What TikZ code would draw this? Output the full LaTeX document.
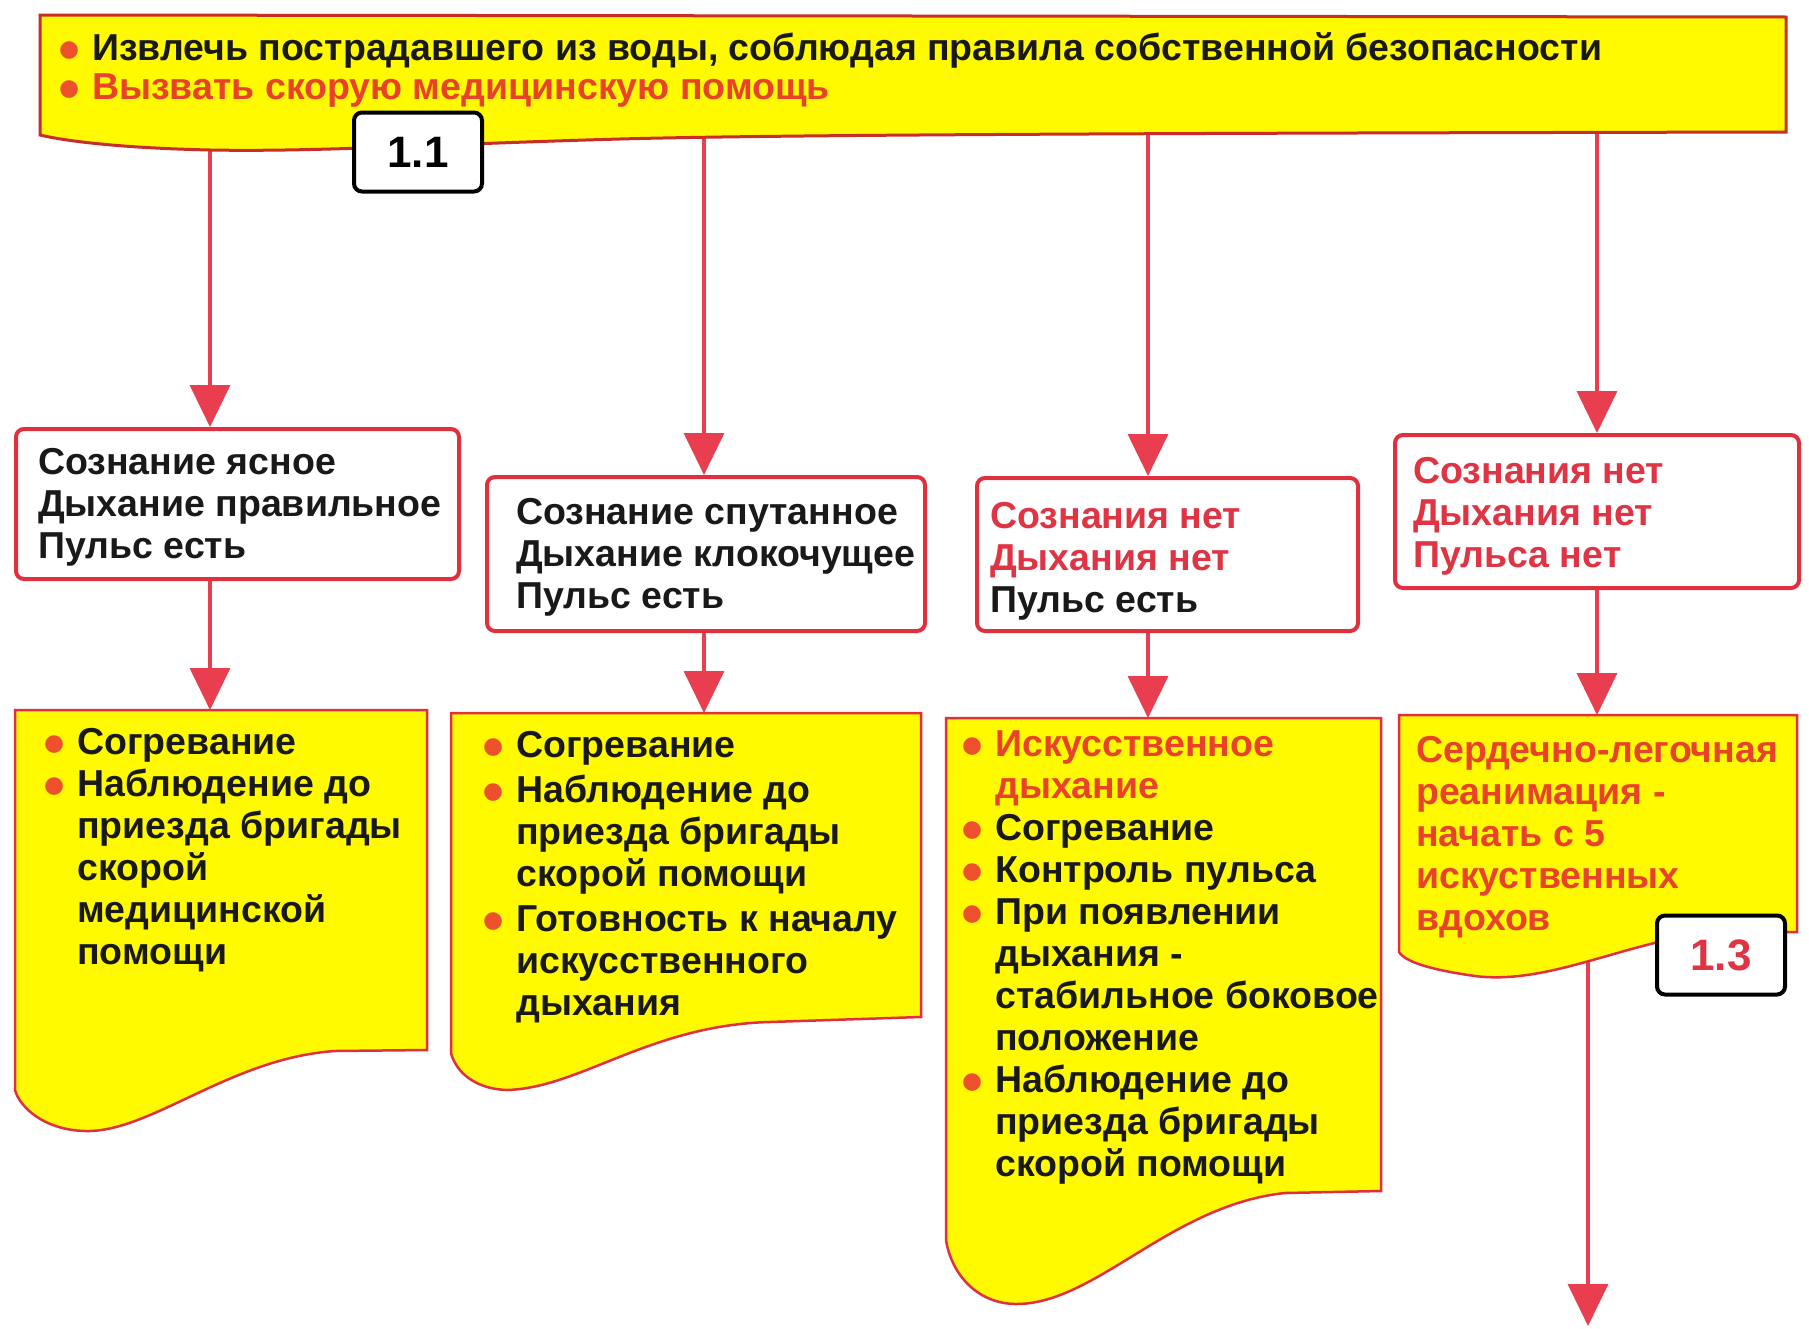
\documentclass[tikz,border=0pt]{standalone}
\usepackage{fontspec}
\setmainfont{Liberation Sans}
\newfontfamily\symfont{DejaVu Sans}
\usetikzlibrary{arrows.meta,positioning}

\definecolor{banyellow}{RGB}{255,250,0}
\definecolor{bandred}{RGB}{200,45,40}
\definecolor{linkred}{RGB}{232,62,80}
\definecolor{framered}{RGB}{224,48,62}
\definecolor{textred}{RGB}{232,66,42}
\definecolor{condred}{RGB}{222,52,68}
\definecolor{dotred}{RGB}{236,80,44}
\definecolor{inkblack}{RGB}{25,25,25}

\newcommand{\bul}{\makebox[33pt][l]{\raisebox{4pt}{\textcolor{dotred}{\symfont\fontsize{23}{23}\selectfont ●}}}}
\newcommand{\ind}{\hspace*{33pt}}

\begin{document}
\begin{tikzpicture}[x=1pt,y=-1pt,
  link/.style={draw=linkred,line width=3.5pt,-{Triangle[width=40pt,length=42pt]}},
  banner/.style={draw=bandred,line width=3pt,fill=banyellow},
  condbox/.style={draw=framered,line width=4pt,fill=white,rounded corners=8pt,anchor=north west,inner sep=0pt},
  condtext/.style={anchor=west,align=left,inner sep=0pt,text=inkblack,font=\bfseries\fontsize{37.5}{42}\selectfont},
  actframe/.style={draw=framered,line width=2.5pt,fill=banyellow},
  acttext/.style={anchor=north west,align=left,inner sep=0pt,text=inkblack,font=\bfseries\fontsize{37.5}{42}\selectfont},
  tagbox/.style={draw=black,line width=4pt,fill=white,rounded corners=8pt,minimum width=128pt,minimum height=79pt,inner sep=0pt,font=\bfseries\fontsize{44}{44}\selectfont}]
\useasboundingbox (0,0) rectangle (1809,1328);
\fill[white] (0,0) rectangle (1809,1328);

% condition boxes
\node[condbox,minimum width=443,minimum height=150] (c1) at (14,427) {};
\node[condbox,minimum width=438,minimum height=154] (c2) at (485,475) {};
\node[condbox,minimum width=381,minimum height=153] (c3) at (975,476) {};
\node[condbox,minimum width=404,minimum height=153] (c4) at (1393,433) {};
\node[condtext,right=24pt of c1.west,yshift=-3pt] (c1t) {Сознание ясное\\Дыхание правильное\\Пульс есть};
\node[condtext,right=31pt of c2.west,yshift=-3pt] (c2t) {Сознание спутанное\\Дыхание клокочущее\\Пульс есть};
\node[condtext,right=15pt of c3.west,yshift=-7pt] (c3t) {\textcolor{condred}{Сознания нет}\\\textcolor{condred}{Дыхания нет}\\Пульс есть};
\node[condtext,right=20pt of c4.west,yshift=-5pt,text=condred] (c4t) {Сознания нет\\Дыхания нет\\Пульса нет};

% arrows from the top banner
\coordinate (b1) at (210,140);
\coordinate (b2) at (704,132);
\coordinate (b3) at (1148,128);
\coordinate (b4) at (1597,125);
\draw[link] (b1) -- (b1 |- c1.north);
\draw[link] (b2) -- (b2 |- c2.north);
\draw[link] (b3) -- (b3 |- c3.north);
\draw[link] (b4) -- (b4 |- c4.north);

% top banner
\filldraw[banner] (40,15) -- (1786,17) -- (1786,132) .. controls (1300,133) and (800,134) .. (620,139)
  .. controls (440,144) and (320,152) .. (210,150) .. controls (120,148) and (65,141) .. (40,135) -- cycle;
\node[acttext,font=\bfseries\fontsize{37.5}{39}\selectfont] (bant) at (59,32)
  {\bul Извлечь пострадавшего из воды, соблюдая правила собственной безопасности\\
   \bul\textcolor{textred}{Вызвать скорую медицинскую помощь}};
\node[tagbox] (tag11) at (418,152) {1.1};

% action boxes
\coordinate (a1) at (15,710);
\coordinate (a2) at (451,713);
\coordinate (a3) at (946,718);
\coordinate (a4) at (1399,715);
\coordinate (a4out) at (1588,940);
\coordinate (exit) at (1588,1326);
\draw[link] (a4out) -- (exit);
\filldraw[actframe] (a1) -- (427,710) -- (427,1050) -- (335,1051) .. controls (230,1058) and (150,1133) .. (85,1131)
  .. controls (45,1130) and (20,1108) .. (15,1090) -- cycle;
\filldraw[actframe] (a2) -- (921,713) -- (921,1017) -- (770,1022) .. controls (650,1025) and (580,1088) .. (507,1090)
  .. controls (475,1089) and (456,1072) .. (451,1053) -- cycle;
\filldraw[actframe] (a3) -- (1381,718) -- (1381,1191) -- (1285,1193) .. controls (1170,1205) and (1095,1305) .. (1015,1304)
  .. controls (975,1303) and (951,1272) .. (946,1240) -- cycle;
\filldraw[actframe] (a4) -- (1797,715) -- (1797,932) -- (1700,934) .. controls (1620,945) and (1545,985) .. (1475,976)
  .. controls (1432,970) and (1405,962) .. (1399,952) -- cycle;
\draw[link] (b1 |- c1.south) -- (b1 |- a1);
\draw[link] (b2 |- c2.south) -- (b2 |- a2);
\draw[link] (b3 |- c3.south) -- (b3 |- a3);
\draw[link] (b4 |- c4.south) -- (b4 |- a4);

\node[acttext] (a1t) at (44,728) {\bul Согревание\\ \bul Наблюдение до\\ \ind приезда бригады\\ \ind скорой\\ \ind медицинской\\ \ind помощи};
\node[acttext] (a2t) at (483,731) {\bul Согревание\\[3pt] \bul Наблюдение до\\ \ind приезда бригады\\ \ind скорой помощи\\[3pt] \bul Готовность к началу\\ \ind искусственного\\ \ind дыхания};
\node[acttext] (a3t) at (962,730) {\bul\textcolor{textred}{Искусственное}\\ \ind\textcolor{textred}{дыхание}\\ \bul Согревание\\ \bul Контроль пульса\\ \bul При появлении\\ \ind дыхания -\\ \ind стабильное боковое\\ \ind положение\\ \bul Наблюдение до\\ \ind приезда бригады\\ \ind скорой помощи};
\node[acttext,text=textred] (a4t) at (1416,736) {Сердечно-легочная\\реанимация -\\начать с 5\\искуственных\\вдохов};
\node[tagbox,text=condred] (tag13) at (1721,955) {1.3};
\end{tikzpicture}
\end{document}
